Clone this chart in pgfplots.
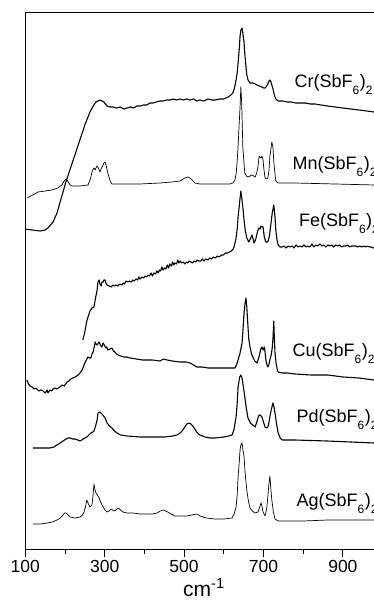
\documentclass[border=0pt]{standalone}
\usepackage{pgfplots}
\pgfplotsset{compat=1.18}
\usepackage{fontspec}
\setmainfont{Liberation Sans}
\newcommand{\sbs}[1]{\raisebox{-0.34em}{\fontsize{12}{12}\selectfont #1}}
\newcommand{\cmpd}[1]{#1(SbF\sbs{6}\kern0.5pt)\sbs{2}}
\begin{document}
\begin{tikzpicture}
\begin{axis}[
  scale only axis, width=357.3pt, height=537pt,
  xmin=100, xmax=1000, ymin=53, ymax=590,
  axis line style={line width=0.9pt},
  xtick={100,300,500,700,900},
  minor xtick={200,400,600,800},
  ytick=\empty,
  xtick pos=bottom,
  tick align=outside,
  major tick length=8pt, minor tick length=5pt,
  tick style={black, line width=0.9pt},
  /pgf/number format/assume math mode=true,
  ticklabel style={font=\fontsize{17.5}{17.5}\selectfont},
  xlabel={cm\textsuperscript{-1}},
  xlabel style={font=\fontsize{21}{21}\selectfont, yshift=1pt},
  clip=true,
]
% Cr
\addplot[black, line width=1.1pt, line join=round] coordinates {
(99,373)(117,372)(137,371)(150,372)(157,374)(170,380)(180,389)(187,399)(203,421)(225,447)(250,477)(263,490)(271,496)(278,500)(283,501)(288,502)(293,501)(298,500)(302,498)(306,496)(313,495)(321,495)(330,494)(339,495)(348,493)(356,494)(365,495)(373,494)(381,496)(389,496)(398,497)(406,497)(414,499)(422,499)(430,500)(439,501)(447,501)(456,502)(465,502)(473,503)(481,502)(490,503)(498,502)(507,503)(515,502)(524,503)(532,501)(540,502)(550,501)(560,503)(570,502)(578,502)(590,503)(600,503)(611,505)(618,507)(623,509)(627,514)(631,522)(634,530)(636,539)(639,553)(641,566)(643,572)(646,574)(648,569)(651,560)(653,548)(656,535)(658,527)(661,522)(666,519)(673,519)(679,518)(684,517)(690,516)(696,515)(700,514)(704,514)(708,516)(711,518)(714,521)(716,522)(719,520)(721,517)(724,513)(726,509)(729,505)(731,503)(737,501)(748,501)(759,500)(770,500)(781,499)(792,499)(805,499)(818,498)(830,498)(845,497)(862,496)(880,495)(900,494)(920,493)(940,492)(960,491)(978,490)(1000,489)
};
% Mn
\addplot[black, line width=0.7pt, line join=round] coordinates {
(104,404)(119,407)(132,410)(150,411)(167,412)(182,414)(192,417)(198,421)(203,423)(208,420)(213,417)(218,416)(238,416)(258,417)(264,423)(268,430)(271,433)(273,434)(276,432)(278,434)(281,436)(284,434)(286,432)(288,430)(292,434)(296,437)(298,439)(301,440)(304,436)(306,432)(310,426)(313,422)(318,418)(339,418)(389,418)(439,419)(470,420)(490,421)(502,424)(510,425)(518,423)(527,419)(540,418)(600,418)(615,418)(623,419)(628,422)(631,428)(633,437)(636,455)(638,472)(641,495)(643,515)(645,500)(648,455)(651,438)(653,429)(657,426)(661,425)(666,426)(671,427)(675,426)(679,425)(683,429)(686,435)(689,446)(691,445)(694,444)(696,446)(699,442)(701,433)(704,424)(708,423)(711,424)(714,432)(716,445)(719,454)(721,460)(724,454)(726,440)(729,428)(731,421)(737,419)(779,419)(880,418)(980,417)(1000,417)
};
% Fe
\addplot[black, line width=1.1pt, line join=round] coordinates {
(245,262)(250,270)(255,281)(258,285)(263,291)(268,294)(273,295)(276,302)(281,312)(283,320)(286,322)(288,318)(291,316)(293,320)(296,320)(298,322)(301,322)(303,319)(306,317)(311,316)(316,315)(321,317)(324,316)(328,317)(333,316)(338,318)(343,317)(347,319)(350,318)(354,321)(358,320)(362,321)(367,320)(371,322)(374,321)(379,323)(383,322)(386,325)(389,323)(394,325)(398,324)(402,326)(405,325)(410,327)(413,326)(417,329)(420,326)(424,329)(428,328)(432,331)(435,329)(438,332)(441,331)(444,335)(447,332)(451,334)(454,333)(458,337)(461,334)(464,338)(468,336)(471,340)(474,337)(477,339)(481,338)(484,342)(487,339)(490,341)(494,339)(498,340)(502,338)(506,340)(509,339)(513,341)(517,340)(521,339)(525,341)(529,340)(533,342)(537,341)(542,341)(546,343)(550,341)(555,343)(560,342)(565,344)(569,343)(574,345)(579,344)(584,346)(589,345)(594,347)(599,347)(604,349)(609,349)(614,350)(619,351)(622,352)(626,355)(631,364)(634,374)(636,385)(639,396)(641,404)(643,411)(645,405)(648,395)(651,382)(654,372)(658,364)(663,360)(667,363)(671,367)(674,363)(676,359)(680,362)(683,367)(686,372)(689,374)(691,373)(694,376)(697,375)(699,375)(702,365)(706,360)(711,360)(715,366)(719,379)(722,389)(726,397)(729,385)(731,372)(734,362)(737,357)(742,355)(747,355)(752,356)(757,354)(762,356)(767,355)(772,356)(777,354)(782,357)(787,355)(792,356)(797,355)(802,357)(807,355)(812,356)(817,355)(822,358)(827,355)(832,357)(837,356)(842,358)(847,356)(852,357)(857,355)(862,357)(867,356)(872,357)(877,355)(882,357)(887,356)(892,357)(897,355)(902,356)(907,356)(912,357)(917,355)(922,356)(927,356)(932,356)(937,355)(942,356)(947,355)(952,356)(957,355)(962,356)(967,355)(972,355)(977,354)(1000,354)
};
% Cu
\addplot[black, line width=1.1pt, line join=round] coordinates {
(104,222)(108,218)(112,216)(117,215)(122,213)(126,214)(129,213)(134,211)(139,212)(145,211)(150,209)(155,212)(157,209)(162,212)(166,211)(170,213)(175,214)(180,213)(187,215)(193,217)(198,216)(205,220)(210,221)(215,223)(220,224)(226,225)(233,227)(238,229)(243,232)(247,236)(250,239)(255,243)(258,245)(262,244)(265,244)(268,248)(271,250)(274,256)(276,260)(278,258)(281,257)(284,259)(286,260)(289,257)(293,255)(296,259)(299,257)(303,254)(305,255)(308,252)(313,253)(318,254)(322,251)(326,250)(330,248)(334,247)(340,246)(348,245)(356,245)(364,244)(380,243)(395,242)(407,242)(420,242)(439,241)(448,243)(457,242)(470,241)(490,240)(505,240)(515,239)(524,237)(532,235)(545,235)(560,234)(578,234)(600,234)(615,234)(628,234)(632,237)(636,242)(641,249)(646,259)(648,270)(651,289)(654,300)(656,304)(658,295)(661,275)(663,263)(666,255)(670,248)(673,245)(678,241)(684,239)(688,244)(691,249)(694,254)(696,255)(699,252)(702,255)(704,250)(706,242)(709,237)(711,235)(714,238)(716,242)(720,248)(722,254)(724,264)(726,281)(727,268)(729,249)(732,238)(735,232)(737,230)(747,229)(760,229)(779,228)(820,227)(862,227)(900,225)(940,224)(978,222)(1000,221)
};
% Pd
\addplot[black, line width=1.1pt, line join=round] coordinates {
(119,154)(140,154)(162,154)(172,155)(180,157)(188,159)(195,161)(203,163)(208,164)(213,164)(219,163)(225,163)(232,162)(238,161)(246,163)(255,165)(260,167)(265,169)(270,170)(273,171)(277,176)(281,182)(283,189)(288,190)(293,188)(297,186)(301,184)(306,179)(312,176)(318,174)(325,171)(331,169)(340,167)(356,166)(390,165)(422,165)(450,165)(472,166)(482,167)(490,169)(497,172)(502,175)(507,178)(512,179)(517,178)(522,176)(527,173)(532,170)(536,168)(540,167)(553,165)(565,164)(578,164)(600,165)(612,166)(621,167)(626,173)(631,185)(634,200)(636,215)(640,225)(643,227)(646,224)(649,216)(653,205)(657,193)(661,184)(667,179)(673,177)(679,175)(683,180)(686,184)(689,187)(691,187)(694,186)(696,185)(700,180)(704,175)(708,174)(711,175)(714,180)(716,185)(720,193)(724,199)(726,196)(729,189)(733,178)(737,169)(742,164)(747,162)(779,162)(860,161)(920,160)(978,159)(1000,159)
};
% Ag
\addplot[black, line width=0.7pt, line join=round] coordinates {
(119,78)(137,78)(155,79)(168,80)(180,82)(188,84)(195,87)(199,89)(203,89)(208,87)(213,85)(225,84)(238,85)(244,87)(248,90)(252,96)(255,102)(259,98)(263,95)(266,96)(268,97)(271,108)(273,118)(275,113)(278,109)(282,107)(286,104)(291,99)(296,95)(301,92)(306,90)(311,91)(316,93)(320,92)(323,91)(328,92)(334,94)(340,92)(346,90)(356,89)(371,89)(390,88)(407,88)(420,88)(432,89)(440,91)(447,92)(453,91)(459,90)(467,88)(477,86)(492,86)(507,86)(520,87)(532,88)(536,87)(540,86)(555,84)(578,83)(600,83)(621,84)(626,88)(631,95)(634,108)(636,125)(639,140)(641,152)(643,157)(646,159)(648,153)(651,145)(654,128)(658,112)(662,101)(666,94)(672,91)(679,89)(686,90)(689,93)(692,97)(694,99)(696,96)(699,90)(704,86)(708,93)(711,105)(713,115)(716,126)(718,116)(721,102)(725,90)(729,83)(737,81)(747,81)(800,81)(862,82)(978,82)(1000,82)
};
\node[anchor=base west, font=\fontsize{18}{18}\selectfont, inner sep=0pt] at (axis cs:778,514) {\cmpd{Cr}};
\node[anchor=base west, font=\fontsize{18}{18}\selectfont, inner sep=0pt] at (axis cs:773,432) {\cmpd{Mn}};
\node[anchor=base west, font=\fontsize{18}{18}\selectfont, inner sep=0pt] at (axis cs:789,375) {\cmpd{Fe}};
\node[anchor=base west, font=\fontsize{18}{18}\selectfont, inner sep=0pt] at (axis cs:773,245) {\cmpd{Cu}};
\node[anchor=base west, font=\fontsize{18}{18}\selectfont, inner sep=0pt] at (axis cs:783,179) {\cmpd{Pd}};
\node[anchor=base west, font=\fontsize{18}{18}\selectfont, inner sep=0pt] at (axis cs:783,95) {\cmpd{Ag}};
\coordinate (bbSW) at (axis cs:36.3,0);
\coordinate (bbNE) at (axis cs:978.2,602);
\end{axis}
\pgfresetboundingbox
\path[use as bounding box] (bbSW) rectangle (bbNE);
\end{tikzpicture}
\end{document}
